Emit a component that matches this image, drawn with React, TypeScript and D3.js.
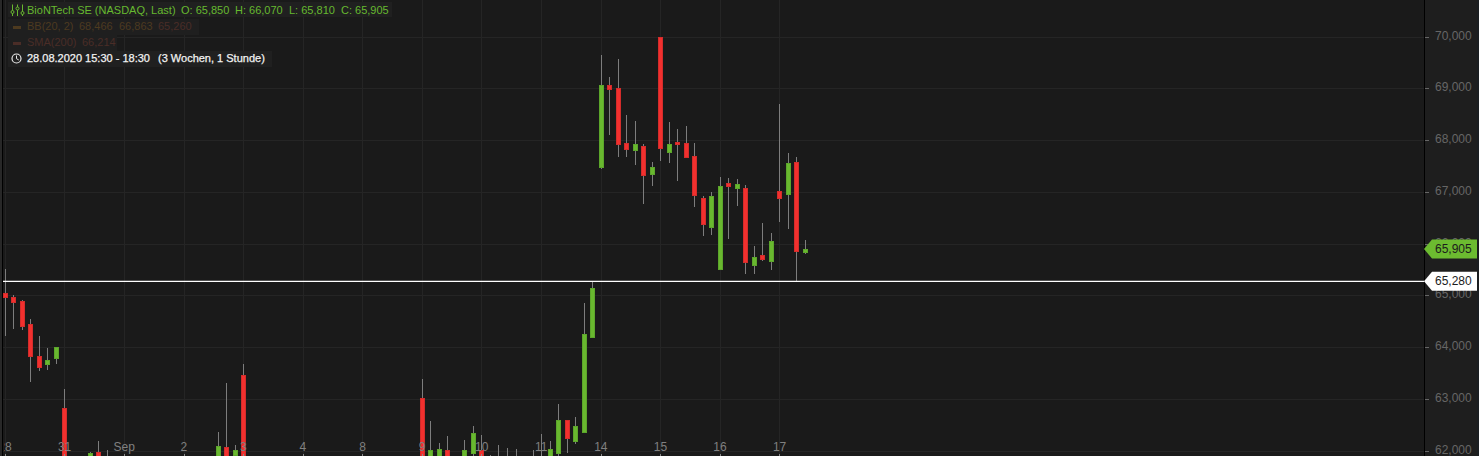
import * as d3 from "d3";

const width = 1479;
const height = 456;

// one row per trading day, 7 hourly candles. null = candle lies below the visible frame
// 61.8 = value is cut off by the bottom edge of the picture
const opens = [
  65.05, 64.97, 64.90, 64.45, 63.83, 63.69, 63.79,
  62.83, null, null, 61.8, 61.99, 61.8, null,
  null, null, null, null, null, null, null,
  null, null, null, null, 61.8, 62.08, 61.93,
  63.47, null, null, null, null, null, null,
  null, null, null, null, null, null, null,
  null, null, null, null, null, null, null,
  63.02, 61.8, 61.8, 62.02, null, 61.8, 61.97,
  62.02, 61.8, 61.8, 61.8, 61.8, null, 61.8,
  61.8, 61.8, 61.97, 62.60, 62.20, 62.36, 64.21,
  67.50, 69.08, 69.01, 67.95, 67.81, 67.89, 67.36,
  70.00, 67.79, 67.98, 67.95, 67.70, 66.89, 66.34,
  65.51, 67.18, 67.09, 67.09, 65.60, 65.79, 65.68,
  67.03, 66.96, 67.59, 65.85,
];
const highs = [
  65.52, 65.01, 64.92, 64.55, 64.23, 63.99, 64.01,
  63.20, null, null, 61.99, 62.19, 62.02, null,
  null, null, null, null, null, null, null,
  null, null, null, null, 62.37, 63.32, 62.12,
  63.68, null, null, null, null, null, null,
  null, null, null, null, null, null, null,
  null, null, null, null, null, null, null,
  63.40, 62.58, 62.16, 62.29, null, 62.22, 62.49,
  62.31, 61.93, 62.12, 62.06, 62.04, null, 62.02,
  62.33, 62.20, 62.91, 62.60, 62.66, 64.86, 65.27,
  69.66, 69.23, 69.58, 68.50, 68.38, 67.94, 67.58,
  70.00, 68.36, 68.23, 68.28, 67.96, 66.93, 67.01,
  67.30, 67.28, 67.26, 67.14, 65.97, 66.41, 66.22,
  68.71, 67.76, 67.69, 66.07,
];
const lows = [
  64.23, 64.35, 64.33, 63.34, 63.54, 63.57, 63.69,
  61.8, null, null, 61.8, 61.8, 61.8, null,
  null, null, null, null, null, null, null,
  null, null, null, null, 61.8, 61.8, 61.8,
  61.8, null, null, null, null, null, null,
  null, null, null, null, null, null, null,
  null, null, null, null, null, null, null,
  61.8, 61.8, 61.8, 61.8, null, 61.8, 61.8,
  61.8, 61.8, 61.8, 61.8, 61.8, null, 61.8,
  61.8, 61.8, 61.8, 61.97, 62.14, 62.36, 64.21,
  67.45, 68.11, 67.69, 67.69, 67.53, 66.78, 67.12,
  67.61, 67.57, 67.22, 67.69, 66.72, 66.16, 66.18,
  65.51, 66.10, 66.74, 65.42, 65.42, 65.68, 65.50,
  66.43, 66.29, 65.29, 65.81,
];
const closes = [
  64.97, 64.89, 64.41, 63.83, 63.63, 63.76, 64.01,
  61.8, null, null, 61.96, 61.8, 61.8, null,
  null, null, null, null, null, null, null,
  null, null, null, null, 62.10, 61.8, 62.02,
  61.8, null, null, null, null, null, null,
  null, null, null, null, null, null, null,
  null, null, null, null, null, null, null,
  61.8, 62.02, 62.04, 61.8, null, 62.02, 62.35,
  61.8, 61.8, 61.8, 61.8, 61.8, null, 61.8,
  61.8, 62.04, 62.60, 62.26, 62.48, 64.26, 65.15,
  69.08, 69.00, 67.94, 67.83, 67.93, 67.34, 67.49,
  67.85, 67.93, 67.94, 67.69, 66.94, 66.38, 66.93,
  67.12, 67.13, 67.16, 65.66, 65.75, 65.71, 66.06,
  66.90, 67.57, 65.86, 65.905,
];

const dayLabels = ["28", "31", "Sep", "2", "3", "4", "8", "9", "10", "11", "14", "15", "16", "17"];
const candlesPerDay = 7;
const priceTicks = [62, 63, 64, 65, 66, 67, 68, 69, 70];
const lastPrice = 65.905;
const markerPrice = 65.28;

const plotRight = 1424;

const x = d3.scaleLinear().domain([0, opens.length - 1]).range([5.3, 805.43]);
const y = d3.scaleLinear().domain([62, 70]).range([451, 37.2]);

const de = d3.formatLocale({ decimal: ",", thousands: ".", grouping: [3], currency: ["", "€"] });
const price = de.format(".3f");

const FONT = "Arial, 'Liberation Sans', sans-serif";
const GREEN = "#69b82f";
const GREEN_EDGE = "#5ca62b";
const RED = "#f2302e";
const RED_EDGE = "#d42c2b";

const px = (v: number) => Math.floor(v) + 0.5;

function Candles() {
  return (
    <g shapeRendering="crispEdges">
      {opens.map((o, i) => {
        const c = closes[i];
        const h = highs[i];
        const l = lows[i];
        if (o === null || c === null || h === null || l === null) return null;
        const up = c >= o;
        const cx = px(x(i));
        const top = Math.round(y(Math.max(o, c)));
        const bottom = Math.round(y(Math.min(o, c)));
        return (
          <g key={i}>
            <line x1={cx} x2={cx} y1={y(h)} y2={y(l)} stroke="#7d7d7d" />
            <rect
              x={cx - 2}
              y={top + 0.5}
              width={4}
              height={Math.max(bottom - top, 1)}
              fill={up ? GREEN : RED}
              stroke={up ? GREEN_EDGE : RED_EDGE}
            />
          </g>
        );
      })}
    </g>
  );
}

function Legend() {
  const dim = "#4d3a1f";
  const dimRed = "#4a2d27";
  return (
    <g fontFamily={FONT} fontSize={11}>
      <rect x={8} y={2} width={384} height={15} fill="#202020" />
      <rect x={8} y={19} width={191} height={16} fill="#1f1f1f" />
      <rect x={8} y={35} width={109} height={16} fill="#1f1f1f" />
      <rect x={8} y={51} width={264} height={16} fill="#202020" />

      <g fill="none" stroke={GREEN} strokeWidth={1}>
        <path d="M12.5 4.5V16M17.5 4.5V16M22.5 4.5V16" />
        <circle cx={12.5} cy={12} r={1.5} fill="#202020" />
        <circle cx={17.5} cy={8.5} r={1.5} fill="#202020" />
        <circle cx={22.5} cy={13} r={1.5} fill="#202020" />
      </g>
      <g fill="#66b92f">
        <text x={27} y={14}>BioNTech SE (NASDAQ, Last)</text>
        <text x={181} y={14}>O: 65,850</text>
        <text x={235} y={14}>H: 66,070</text>
        <text x={289} y={14}>L: 65,810</text>
        <text x={341} y={14}>C: 65,905</text>
      </g>

      <rect x={13} y={26} width={8} height={3} fill={dim} />
      <g fill={dim}>
        <text x={27} y={30}>BB(20, 2)</text>
        <text x={79} y={30}>68,466</text>
        <text x={119} y={30}>66,863</text>
      </g>
      <text x={158} y={30} fill={dimRed}>65,260</text>

      <rect x={13} y={42} width={8} height={3} fill={dimRed} />
      <g fill={dimRed}>
        <text x={27} y={46}>SMA(200)</text>
        <text x={82} y={46}>66,214</text>
      </g>

      <circle cx={16.5} cy={58.5} r={4.5} fill="none" stroke="#e8e8e8" strokeWidth={1.2} />
      <path d="M16.5 55.5V58.7L18.8 60" fill="none" stroke="#e8e8e8" />
      <g fill="#f2f2f2" stroke="#f2f2f2" strokeWidth={0.25}>
        <text x={27} y={62}>28.08.2020 15:30 - 18:30</text>
        <text x={158} y={62}>(3 Wochen, 1 Stunde)</text>
      </g>
    </g>
  );
}

function PriceFlag({ value, fill }: { value: number; fill: string }) {
  const cy = y(value);
  const d = d3.line()([
    [plotRight, cy],
    [plotRight + 8, cy - 9.5],
    [1477, cy - 9.5],
    [1477, cy + 9.5],
    [plotRight + 8, cy + 9.5],
  ]) + "Z";
  return (
    <g>
      <path d={d} fill={fill} />
      <text x={1435} y={cy + 4} fill="#1c1c1c" fontFamily={FONT} fontSize={12}>
        {price(value)}
      </text>
    </g>
  );
}

export default function App() {
  return (
    <svg
      width={width}
      height={height}
      style={{ position: "absolute", left: 0, top: 0, display: "block" }}
    >
      <defs>
        <clipPath id="plot-clip">
          <rect x={4} width={plotRight - 4} height={height} />
        </clipPath>
      </defs>
      <rect width={width} height={height} fill="#1a1a1a" />
      <rect x={plotRight} width={width - plotRight} height={height} fill="#1e1e1e" />

      <g stroke="#252525" shapeRendering="crispEdges">
        {priceTicks.map((t) => (
          <line key={t} x1={3} x2={plotRight} y1={px(y(t))} y2={px(y(t))} />
        ))}
        {dayLabels.map((d, i) => (
          <line key={d} x1={px(x(i * candlesPerDay))} x2={px(x(i * candlesPerDay))} y1={0} y2={height} />
        ))}
      </g>

      <Candles />

      <g fontFamily={FONT} fontSize={12} fill="#808080" textAnchor="middle" clipPath="url(#plot-clip)">
        {dayLabels.map((d, i) => (
          <g key={d}>
            <text x={x(i * candlesPerDay) - 0.3} y={451}>{d}</text>
            <line
              x1={px(x(i * candlesPerDay))}
              x2={px(x(i * candlesPerDay))}
              y1={454}
              y2={456}
              stroke="#8a8a8a"
              shapeRendering="crispEdges"
            />
          </g>
        ))}
      </g>

      <rect x={0} width={2} height={height} fill="#282828" />
      <rect x={2} width={1} height={height} fill="#000" />
      <rect x={plotRight} width={1} height={height} fill="#000" />
      <rect x={1477} width={2} height={height} fill="#1b1e21" />

      <g fontFamily={FONT} fontSize={12} fill="#666">
        {priceTicks.map((t) => (
          <g key={t}>
            <line x1={plotRight + 1} x2={plotRight + 5} y1={px(y(t))} y2={px(y(t))} stroke="#666" shapeRendering="crispEdges" />
            <text x={1435} y={y(t) + 2.5}>{price(t)}</text>
          </g>
        ))}
      </g>

      <line x1={3} x2={plotRight} y1={y(markerPrice)} y2={y(markerPrice)} stroke="#fff" strokeWidth={1.3} />
      <PriceFlag value={lastPrice} fill="#6cbb30" />
      <PriceFlag value={markerPrice} fill="#ffffff" />

      <Legend />
    </svg>
  );
}
